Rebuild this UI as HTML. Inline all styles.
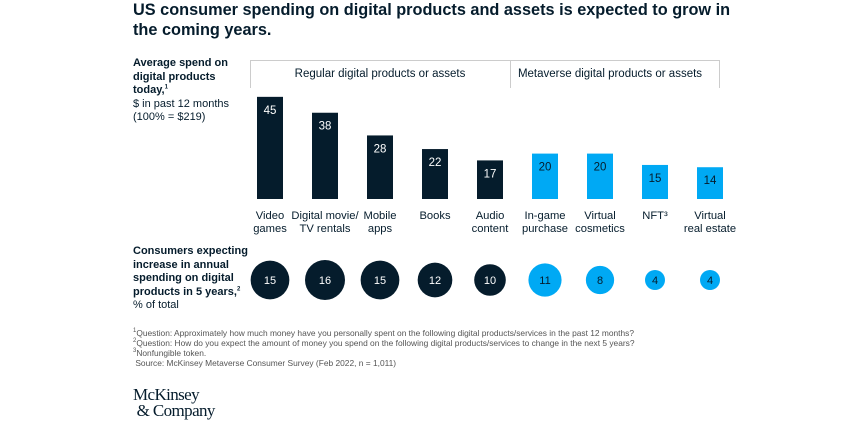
<!DOCTYPE html>
<html><head><meta charset="utf-8"><style>
body{margin:0;background:#fff;width:865px;height:424px;overflow:hidden;font-family:"Liberation Sans",Arial,sans-serif;color:#051c2c}
sup{line-height:0;font-size:6px}
.t{position:absolute;left:133px;top:0px;font-size:16.3px;font-weight:bold;line-height:20px;width:600px}
.lab{position:absolute;left:133px;font-size:11px;line-height:13.5px}
.fn{position:absolute;left:133px;top:328px;font-size:8.4px;line-height:10px;color:#555}
.logo{position:absolute;left:133px;top:387px;font-family:"Liberation Serif",serif;font-size:17px;line-height:16px;letter-spacing:-0.6px}
</style></head><body>
<div class="t">US consumer spending on digital products and assets is expected to grow in the coming years.</div>
<div class="lab" style="top:57px"><b>Average spend on<br>digital products<br>today,<sup>1</sup></b><br>$ in past 12 months<br>(100% = $219)</div>
<div class="lab" style="top:245px"><b>Consumers expecting<br>increase in annual<br>spending on digital<br>products in 5 years,<sup>2</sup></b><br>% of total</div>
<div class="fn"><sup>1</sup>Question: Approximately how much money have you personally spent on the following digital products/services in the past 12 months?<br><sup>2</sup>Question: How do you expect the amount of money you spend on the following digital products/services to change in the next 5 years?<br><sup>3</sup>Nonfungible token.<br>&nbsp;Source: McKinsey Metaverse Consumer Survey (Feb 2022, n = 1,011)</div>
<div class="logo">McKinsey<br>&nbsp;&amp; Company</div>
<svg id="c" width="865" height="424" style="position:absolute;left:0;top:0"></svg>
<script>
const categories=[["Video","games"],["Digital movie/","TV rentals"],["Mobile","apps"],["Books"],["Audio","content"],["In-game","purchase"],["Virtual","cosmetics"],["NFT³"],["Virtual","real estate"]];
const spend=[45,38,28,22,17,20,20,15,14];
const expecting=[15,16,15,12,10,11,8,4,4];
const groupType=["regular","regular","regular","regular","regular","meta","meta","meta","meta"];
const groups=["Regular digital products or assets","Metaverse digital products or assets"];
const svg=document.getElementById('c');const NS="http://www.w3.org/2000/svg";
function mk(t,a){const e=document.createElementNS(NS,t);for(const k in a)e.setAttribute(k,a[k]);svg.appendChild(e);return e;}
const x=i=>270+i*55, base=199, y=v=>base-v*2.27, r=v=>5*Math.sqrt(v);
const col=g=>g==="regular"?"#051c2c":"#00a9f4";
const hb=mk('path',{d:"M250.5 88V60.5H719.5V88M510.5 60.5V88",fill:"none",stroke:"#ccc"});


[[380,groups[0]],[610,groups[1]]].forEach(([cx,s],i)=>{const t=mk('text',{x:cx,y:77,'text-anchor':'middle','font-size':11.5,fill:'#051c2c'});t.textContent=s;

});
categories.forEach((c,i)=>{
 const b=mk('rect',{x:x(i)-13,y:y(spend[i]),width:26,height:base-y(spend[i]),fill:col(groupType[i])});
 
 
 const v=mk('text',{x:x(i),y:y(spend[i])+17,'text-anchor':'middle','font-size':11.5,fill:groupType[i]==="regular"?"#fff":"#051c2c"});v.textContent=spend[i];
 
 
 c.forEach((l,j)=>{const t=mk('text',{x:x(i),y:219+j*13,'text-anchor':'middle','font-size':11.2,fill:'#051c2c'});t.textContent=l;
 
 });
 const ci=mk('circle',{cx:x(i),cy:280,r:r(expecting[i]),fill:col(groupType[i])});
 
 
 const bt=mk('text',{x:x(i),y:284,'text-anchor':'middle','font-size':11,fill:groupType[i]==="regular"?"#fff":"#051c2c"});bt.textContent=expecting[i];
 
 
});
</script>
</body></html>
